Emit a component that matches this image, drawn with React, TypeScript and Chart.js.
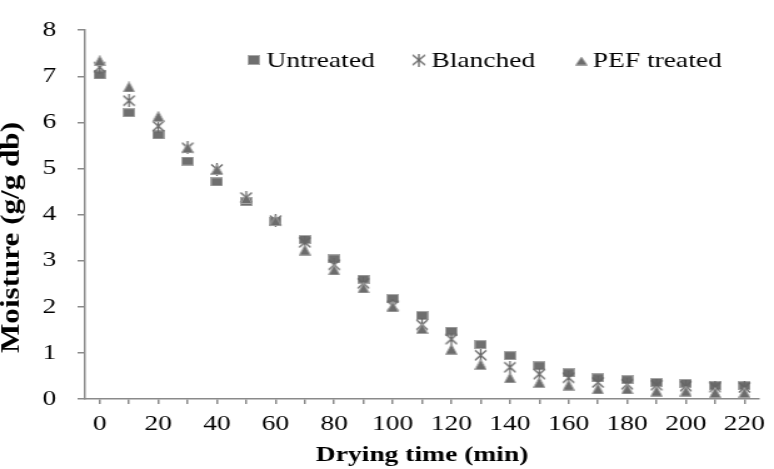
import React, { useEffect, useRef } from 'react';
import { Chart, registerables } from 'chart.js';

Chart.register(...registerables);

// ---- data ----
const dryingTime = [0, 10, 20, 30, 40, 50, 60, 70, 80, 90, 100, 110, 120, 130, 140, 150, 160, 170, 180, 190, 200, 210, 220];
const untreated = [7.03, 6.21, 5.73, 5.16, 4.71, 4.28, 3.85, 3.46, 3.04, 2.6, 2.18, 1.81, 1.47, 1.18, 0.94, 0.72, 0.57, 0.46, 0.42, 0.36, 0.34, 0.29, 0.29];
const blanched = [7.2, 6.47, 5.92, 5.45, 4.98, 4.37, 3.87, 3.4, 2.91, 2.51, 2.02, 1.61, 1.3, 0.95, 0.69, 0.54, 0.46, 0.36, 0.32, 0.3, 0.28, 0.26, 0.25];
const pefTreated = [7.34, 6.77, 6.13, 5.45, 4.98, 4.35, 3.87, 3.23, 2.8, 2.41, 2.0, 1.53, 1.08, 0.75, 0.46, 0.36, 0.3, 0.22, 0.22, 0.17, 0.17, 0.14, 0.14];
const seriesLabels = ['Untreated', 'Blanched', 'PEF treated'];
const xTickValues = [0, 10, 20, 30, 40, 50, 60, 70, 80, 90, 100, 110, 120, 130, 140, 150, 160, 170, 180, 190, 200, 210, 220];
const yTickValues = [0, 1, 2, 3, 4, 5, 6, 7, 8];
const xTitle = 'Drying time (min)';
const yTitle = 'Moisture (g/g db)';

// ---- layout / style ----
const OUT_W = 774;
const OUT_H = 469;
const IN_W = 619;
const SX = OUT_W / IN_W;
const SERIF = '"Liberation Serif", "Times New Roman", serif';
const AXIS_COLOR = '#8a8a8a';

function makeMarker(kind: string, w: number, h: number): HTMLCanvasElement {
  const c = document.createElement('canvas');
  c.width = w;
  c.height = h;
  const g = c.getContext('2d')!;
  if (kind === 'square') {
    g.fillStyle = '#a8a8a8';
    g.fillRect(0, 0, w, h);
    g.fillStyle = '#6f6f6f';
    g.fillRect(1, 1, w - 2, h - 2);
  } else if (kind === 'triangle') {
    g.beginPath();
    g.moveTo(w / 2, 0.5);
    g.lineTo(w - 0.5, h - 0.5);
    g.lineTo(0.5, h - 0.5);
    g.closePath();
    g.fillStyle = '#6c6c6c';
    g.fill();
    g.strokeStyle = '#a4a4a4';
    g.lineWidth = 1;
    g.stroke();
  } else {
    g.strokeStyle = '#666666';
    g.lineWidth = 1.3;
    g.beginPath();
    g.moveTo(1, 1.5);
    g.lineTo(w - 1, h - 1.5);
    g.moveTo(w - 1, 1.5);
    g.lineTo(1, h - 1.5);
    g.moveTo(w / 2, 0);
    g.lineTo(w / 2, h);
    g.stroke();
  }
  return c;
}

export default function App() {
  const ref = useRef<HTMLCanvasElement>(null);

  useEffect(() => {
    if (!ref.current) return;
    const mSquare = makeMarker('square', 10, 9);
    const mStar = makeMarker('star', 11, 13);
    const mTri = makeMarker('triangle', 10, 11);
    const lSquare = makeMarker('square', 10, 10);
    const lStar = makeMarker('star', 12, 13);
    const lTri = makeMarker('triangle', 10, 9);

    const toPts = (ys: number[]) => dryingTime.map((x, i) => ({ x, y: ys[i] }));

    const overlay = {
      id: 'overlay',
      afterDraw(chart: any) {
        const { ctx, chartArea } = chart;
        ctx.save();
        // legend
        const items = [
          { m: lSquare, label: seriesLabels[0], mx: 135, tx: 145, my: 60 },
          { m: lStar, label: seriesLabels[1], mx: 267, tx: 277, my: 60 },
          { m: lTri, label: seriesLabels[2], mx: 397, tx: 406, my: 61 },
        ];
        ctx.font = `22px ${SERIF}`;
        ctx.fillStyle = '#000';
        ctx.textAlign = 'left';
        ctx.textBaseline = 'alphabetic';
        for (const it of items) {
          const cx = chartArea.left + it.mx;
          ctx.drawImage(it.m, cx - it.m.width / 2, it.my - it.m.height / 2);
          ctx.fillText(it.label, chartArea.left + it.tx, 67);
        }
        // y title (stretched along its length)
        ctx.font = `bold 20px ${SERIF}`;
        const tw = ctx.measureText(yTitle).width;
        const along = 231 / tw;
        ctx.translate(9.6, 237.5);
        ctx.rotate(-Math.PI / 2);
        ctx.scale(along, 1);
        ctx.textAlign = 'center';
        ctx.textBaseline = 'middle';
        ctx.fillText(yTitle, 0, 0);
        ctx.restore();
      },
    };

    const chart = new Chart(ref.current, {
      type: 'scatter',
      data: {
        datasets: [
          { label: seriesLabels[0], data: toPts(untreated), pointStyle: mSquare as any, pointRadius: 5, order: 2, showLine: false },
          { label: seriesLabels[1], data: toPts(blanched), pointStyle: mStar as any, pointRadius: 5, order: 1, showLine: false },
          { label: seriesLabels[2], data: toPts(pefTreated), pointStyle: mTri as any, pointRadius: 5, order: 0, showLine: false },
        ],
      },
      options: {
        responsive: false,
        animation: false,
        devicePixelRatio: 1,
        layout: { autoPadding: false, padding: { top: 9, right: 6, left: 0, bottom: 0 } } as any,
        plugins: {
          legend: { display: false },
          tooltip: { enabled: false },
        },
        scales: {
          x: {
            type: 'linear',
            min: -5,
            max: 225,
            afterBuildTicks: (s: any) => {
              s.ticks = xTickValues.map((v) => ({ value: v }));
            },
            afterFit: (s: any) => {
              s.height = 70;
            },
            ticks: {
              autoSkip: false,
              maxRotation: 0,
              padding: 7,
              color: '#000',
              font: { family: SERIF, size: 22 },
              callback: (v: any) => (Number(v) % 20 === 0 ? String(v) : ''),
            },
            grid: { display: true, drawOnChartArea: false, drawTicks: true, tickLength: 5, color: AXIS_COLOR, lineWidth: 1.5 },
            border: { display: true, color: AXIS_COLOR, width: 1.5 },
            title: { display: true, text: xTitle, color: '#000', font: { family: SERIF, size: 22, weight: 'bold' }, padding: { top: 0, bottom: 0 } },
          },
          y: {
            type: 'linear',
            min: 0,
            max: 8,
            afterBuildTicks: (s: any) => {
              s.ticks = yTickValues.map((v) => ({ value: v }));
            },
            afterFit: (s: any) => {
              s.width = 68;
            },
            ticks: {
              padding: 17,
              color: '#000',
              font: { family: SERIF, size: 22 },
            },
            grid: { display: true, drawOnChartArea: false, drawTicks: true, tickLength: 6, color: AXIS_COLOR, lineWidth: 1.5 },
            border: { display: true, color: AXIS_COLOR, width: 1.5 },
            title: { display: false },
          },
        },
      } as any,
      plugins: [overlay],
    });

    return () => chart.destroy();
  }, []);

  return (
    <div style={{ position: 'absolute', left: 0, top: 0, width: OUT_W, height: OUT_H, overflow: 'hidden', background: '#fff' }}>
      <div style={{ width: IN_W, height: OUT_H, transform: `scaleX(${SX})`, transformOrigin: '0 0' }}>
        <canvas ref={ref} width={IN_W} height={OUT_H} />
      </div>
    </div>
  );
}
